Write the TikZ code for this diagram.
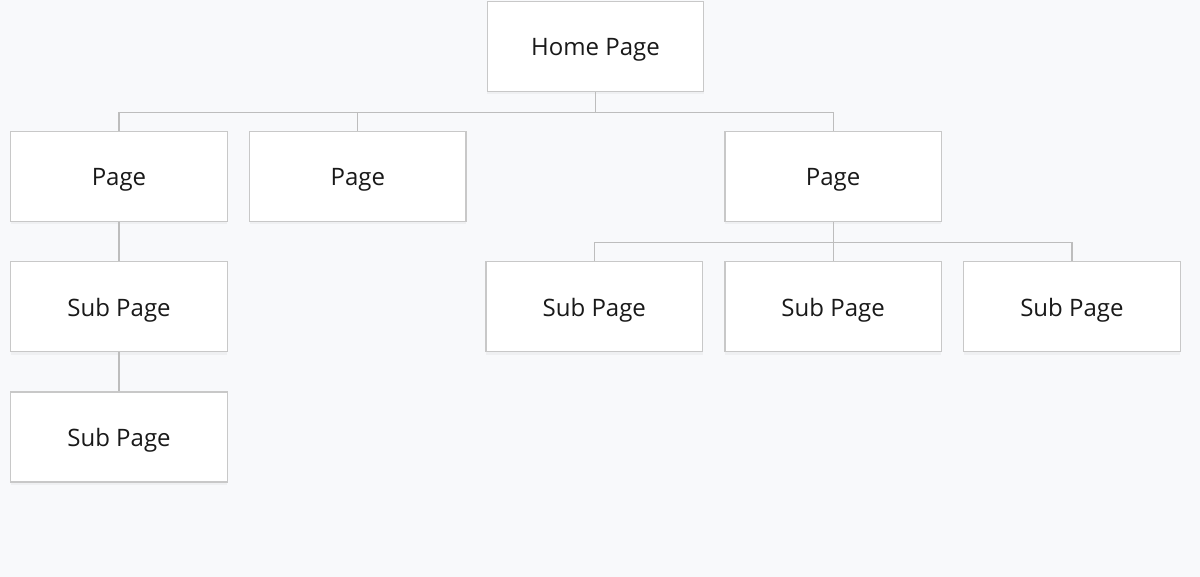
\documentclass[tikz,border=0pt]{standalone}
\usepackage{fontspec}
\setmainfont{Open Sans}
\usetikzlibrary{positioning,shadows}
\definecolor{bgcol}{HTML}{F8F9FB}
\definecolor{boxline}{HTML}{C8C8C8}
\definecolor{linkline}{HTML}{BDBDBD}
\begin{document}
\begin{tikzpicture}[x=1pt, y=-1pt,
    main/.style = {draw=boxline, line width=1.3pt, fill=white, minimum width=216.5pt, minimum height=90pt,
                   inner sep=0pt, text height=19pt, text depth=0pt, font=\fontsize{24}{28}\selectfont, text=black!90,
                   drop shadow={opacity=0.07, shadow xshift=0pt, shadow yshift=-3pt}},
    link/.style = {draw=linkline, line width=1.2pt}]
    \useasboundingbox[fill=bgcol] (0,0) rectangle (1200,577);

    \node[main] (1)                        at (595.5,46.5)  {Home Page};
    \node[main] (2)                        at (119,176.5)   {Page};
    \node[main] (3) [right=21pt of 2]                       {Page};
    \node[main] (4) [right=257.5pt of 3]                    {Page};
    \node[main] (5) [below=39pt of 2]                       {Sub Page};
    \node[main] (6) [below=39pt of 5]                       {Sub Page};
    \node[main] (8) [below=39pt of 4]                       {Sub Page};
    \node[main] (7) [left=21pt of 8]                        {Sub Page};
    \node[main] (9) [right=21pt of 8]                       {Sub Page};

    \draw[link] (1.south) -- ++(0,20) coordinate (h);
    \draw[link] (h) -| (2.north);
    \draw[link] (h) -| (3.north);
    \draw[link] (h) -| (4.north);
    \draw[link] (2) -- (5);
    \draw[link] (5) -- (6);
    \draw[link] (4.south) -- ++(0,20) coordinate (p);
    \draw[link] (p) -| (7.north);
    \draw[link] (p) -- (8.north);
    \draw[link] (p) -| (9.north);
\end{tikzpicture}
\end{document}
